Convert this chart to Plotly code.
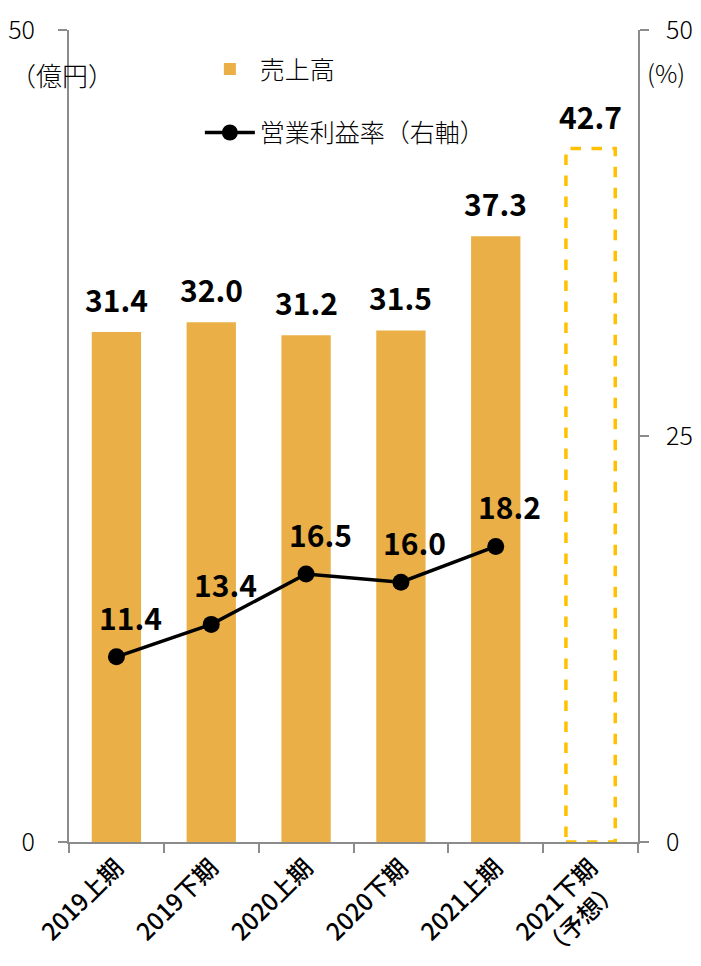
import plotly.graph_objects as go

categories = ["2019上期", "2019下期", "2020上期", "2020下期", "2021上期", "2021下期<br>（予想）"]
sales = [31.4, 32.0, 31.2, 31.5, 37.3]
sales_forecast = 42.7
margin_rate = [11.4, 13.4, 16.5, 16.0, 18.2]

BAR_COLOR = "#EBAF47"
DASH_COLOR = "#FFC000"
AXIS_COLOR = "#8C8C8C"
FONT = "Noto Sans CJK JP"
BAR_W = 0.52

fig = go.Figure()
fig.add_trace(go.Bar(
    x=categories[:len(sales)], y=sales, name="売上高",
    marker=dict(color=BAR_COLOR, line=dict(width=0)), width=BAR_W,
    legendgroup="a",
))
fig.add_trace(go.Scatter(
    x=categories[:len(margin_rate)], y=margin_rate, name="営業利益率（右軸）",
    mode="lines+markers", yaxis="y2",
    line=dict(color="black", width=3.5),
    marker=dict(color="black", size=17),
    legendgroup="b",
))
# forecast bar: dashed outline
fi = len(categories) - 1
fig.add_shape(type="rect", xref="x", yref="y",
              x0=fi - BAR_W / 2, x1=fi + BAR_W / 2, y0=0, y1=sales_forecast,
              line=dict(color=DASH_COLOR, width=3.5, dash="dash"),
              fillcolor="rgba(0,0,0,0)", layer="above")

label_font = dict(family=FONT, size=30, color="black", weight="bold")
for c, v in zip(categories, sales + [sales_forecast]):
    fig.add_annotation(x=c, y=v, yref="y", text=f"{v:.1f}", showarrow=False,
                       yanchor="bottom", yshift=9, font=label_font)
for c, v in zip(categories, margin_rate):
    fig.add_annotation(x=c, y=v, yref="y2", text=f"{v:.1f}", showarrow=False,
                       yanchor="bottom", yshift=16, xshift=14, font=label_font)

fig.add_annotation(xref="paper", yref="paper", x=-0.012, y=0.945, text="（億円）",
                   showarrow=False, xanchor="center", yanchor="middle",
                   font=dict(family=FONT, size=26, color="black", weight=300))
fig.add_annotation(xref="paper", yref="paper", x=1.05, y=0.948, text="(%)",
                   showarrow=False, xanchor="center", yanchor="middle",
                   font=dict(family=FONT, size=25, color="black", weight=300))

tick_font = dict(family=FONT, size=25, color="black", weight=300)
fig.update_layout(
    width=685, height=950,
    margin=dict(l=61, r=55, t=22, b=116),
    plot_bgcolor="white", paper_bgcolor="white",
    bargap=0.48,
    font=dict(family=FONT),
    xaxis=dict(
        type="category", categoryorder="array", categoryarray=categories,
        range=[-0.5, len(categories) - 0.5], automargin=False,
        showline=True, linecolor=AXIS_COLOR, linewidth=2,
        ticks="outside", tickson="boundaries", ticklen=9, tickcolor=AXIS_COLOR, tickwidth=2,
        tickangle=-45, tickfont=dict(family=FONT, size=24, color="black", weight=500),
        showgrid=False, zeroline=False,
    ),
    yaxis=dict(
        range=[0, 50], tickvals=[0, 50], showline=True, linecolor=AXIS_COLOR, linewidth=2,
        ticks="outside", ticklen=9, tickcolor=AXIS_COLOR, tickwidth=2, automargin=False,
        tickfont=tick_font, ticklabelstandoff=18,
        showgrid=False, zeroline=False,
    ),
    yaxis2=dict(
        range=[0, 50], tickvals=[0, 25, 50], overlaying="y", side="right",
        showline=True, linecolor=AXIS_COLOR, linewidth=2, automargin=False,
        ticks="outside", ticklen=9, tickcolor=AXIS_COLOR, tickwidth=2,
        tickfont=tick_font, ticklabelstandoff=12,
        showgrid=False, zeroline=False,
    ),
    showlegend=True,
    legend=dict(x=0.23, y=0.98, xanchor="left", yanchor="top",
                bgcolor="rgba(0,0,0,0)", font=dict(family=FONT, size=25, color="black", weight=300),
                tracegroupgap=28, traceorder="grouped", itemwidth=50),
)
fig.write_html("out.html")
